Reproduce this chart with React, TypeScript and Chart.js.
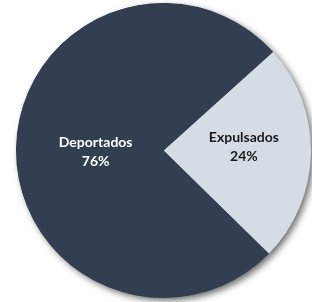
import React, { useEffect, useRef } from "react";
import { Chart, registerables } from "chart.js";

Chart.register(...registerables);

const categories = ["Expulsados", "Deportados"];
const values = [24, 76];
const percentLabels = ["24%", "76%"];
const colors = ["#D6DCE5", "#333F50"];
const textColors = ["#1a1a1a", "#ffffff"];
const labelRadiusFractions = [0.545, 0.46];
const labelShiftY = [-6, 2];

const shadowPlugin = {
  id: "pieShadow",
  beforeDatasetsDraw(chart: any) {
    const arc = chart.getDatasetMeta(0).data[0] as any;
    if (!arc) return;
    const ctx = chart.ctx;
    ctx.save();
    ctx.shadowColor = "rgba(0,0,0,0.6)";
    ctx.shadowBlur = 7;
    ctx.shadowOffsetX = 3;
    ctx.shadowOffsetY = 3;
    ctx.beginPath();
    ctx.arc(arc.x, arc.y, arc.outerRadius - 0.5, 0, Math.PI * 2);
    ctx.fillStyle = "#333F50";
    ctx.fill();
    ctx.restore();
  },
};

const labelPlugin = {
  id: "sliceLabels",
  afterDatasetsDraw(chart: any) {
    const meta = chart.getDatasetMeta(0);
    const ctx = chart.ctx;
    ctx.save();
    ctx.font = "bold 14px Lato";
    ctx.textAlign = "center";
    ctx.textBaseline = "middle";
    meta.data.forEach((el: any, i: number) => {
      const mid = (el.startAngle + el.endAngle) / 2;
      const r = el.outerRadius * labelRadiusFractions[i];
      const x = el.x + Math.cos(mid) * r;
      const y = el.y + Math.sin(mid) * r + labelShiftY[i];
      ctx.fillStyle = textColors[i];
      ctx.fillText(categories[i], x, y - 9);
      ctx.fillText(percentLabels[i], x, y + 10);
    });
    ctx.restore();
  },
};

export default function App() {
  const ref = useRef<HTMLCanvasElement | null>(null);
  useEffect(() => {
    if (!ref.current) return;
    const chart = new Chart(ref.current, {
      type: "pie",
      data: {
        labels: categories,
        datasets: [
          {
            data: values,
            backgroundColor: colors,
            borderWidth: 0,
          },
        ],
      },
      options: {
        animation: false,
        responsive: false,
        rotation: 48,
        layout: { padding: { left: 16, right: 1, top: 3, bottom: 4 } },
        plugins: {
          legend: { display: false },
          tooltip: { enabled: false },
        },
      },
      plugins: [shadowPlugin, labelPlugin],
    });
    return () => chart.destroy();
  }, []);
  return (
    <div style={{ position: "fixed", left: 0, top: 0, width: 312, height: 302, background: "#fff" }}>
      <canvas ref={ref} width={312} height={302} />
    </div>
  );
}
